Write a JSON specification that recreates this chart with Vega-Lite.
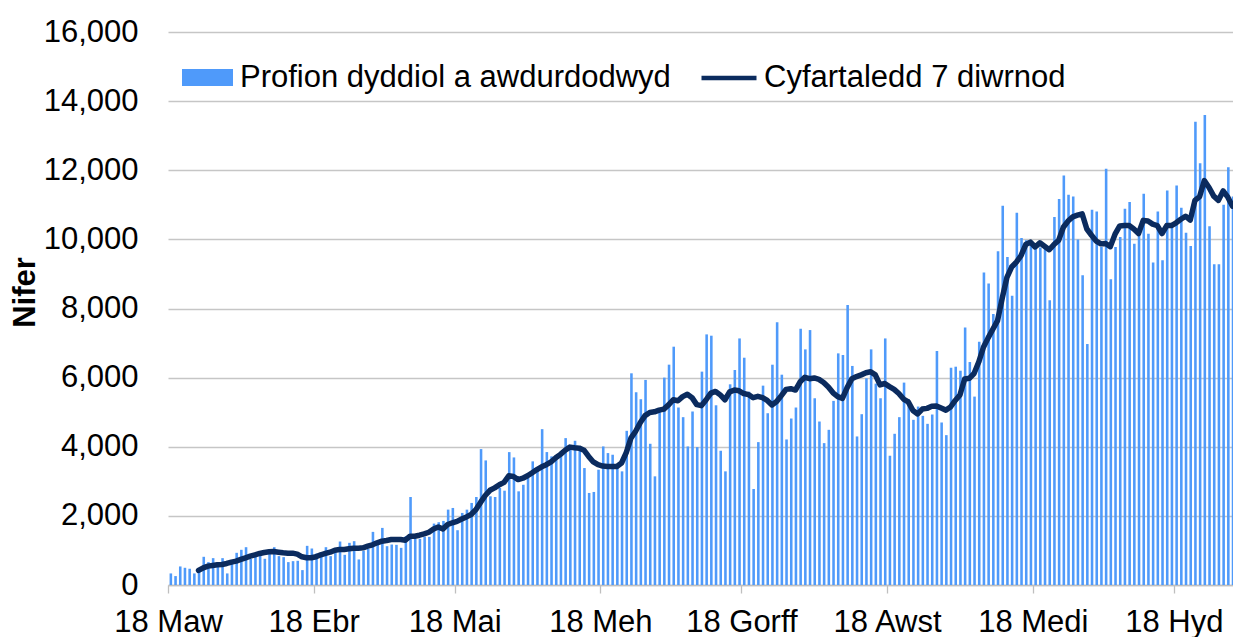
{
"$schema": "https://vega.github.io/schema/vega-lite/v6.json",
"width": 1065,
"height": 553,
"autosize": {"type": "none"},
"padding": {"left": 168, "top": 32, "right": 0, "bottom": 52},
"config": {"font": "Liberation Sans", "view": {"stroke": null}},
"data": {"values": [
{"date":"2020-03-18","tests":335,"avg":null},
{"date":"2020-03-19","tests":258,"avg":null},
{"date":"2020-03-20","tests":537,"avg":null},
{"date":"2020-03-21","tests":498,"avg":null},
{"date":"2020-03-22","tests":470,"avg":null},
{"date":"2020-03-23","tests":335,"avg":null},
{"date":"2020-03-24","tests":450,"avg":421},
{"date":"2020-03-25","tests":816,"avg":498},
{"date":"2020-03-26","tests":662,"avg":546},
{"date":"2020-03-27","tests":777,"avg":566},
{"date":"2020-03-28","tests":662,"avg":585},
{"date":"2020-03-29","tests":777,"avg":595},
{"date":"2020-03-30","tests":335,"avg":623},
{"date":"2020-03-31","tests":662,"avg":662},
{"date":"2020-04-01","tests":931,"avg":690},
{"date":"2020-04-02","tests":1018,"avg":739},
{"date":"2020-04-03","tests":1094,"avg":787},
{"date":"2020-04-04","tests":758,"avg":835},
{"date":"2020-04-05","tests":816,"avg":873},
{"date":"2020-04-06","tests":931,"avg":912},
{"date":"2020-04-07","tests":758,"avg":941},
{"date":"2020-04-08","tests":989,"avg":960},
{"date":"2020-04-09","tests":1094,"avg":970},
{"date":"2020-04-10","tests":835,"avg":950},
{"date":"2020-04-11","tests":806,"avg":931},
{"date":"2020-04-12","tests":662,"avg":922},
{"date":"2020-04-13","tests":690,"avg":922},
{"date":"2020-04-14","tests":700,"avg":893},
{"date":"2020-04-15","tests":431,"avg":816},
{"date":"2020-04-16","tests":1133,"avg":787},
{"date":"2020-04-17","tests":1056,"avg":787},
{"date":"2020-04-18","tests":912,"avg":816},
{"date":"2020-04-19","tests":950,"avg":873},
{"date":"2020-04-20","tests":1094,"avg":912},
{"date":"2020-04-21","tests":835,"avg":950},
{"date":"2020-04-22","tests":989,"avg":1008},
{"date":"2020-04-23","tests":1258,"avg":1027},
{"date":"2020-04-24","tests":873,"avg":1027},
{"date":"2020-04-25","tests":1220,"avg":1046},
{"date":"2020-04-26","tests":1268,"avg":1066},
{"date":"2020-04-27","tests":739,"avg":1066},
{"date":"2020-04-28","tests":989,"avg":1075},
{"date":"2020-04-29","tests":1046,"avg":1123},
{"date":"2020-04-30","tests":1537,"avg":1162},
{"date":"2020-05-01","tests":1268,"avg":1220},
{"date":"2020-05-02","tests":1652,"avg":1268},
{"date":"2020-05-03","tests":1123,"avg":1287},
{"date":"2020-05-04","tests":1171,"avg":1316},
{"date":"2020-05-05","tests":1162,"avg":1316},
{"date":"2020-05-06","tests":1075,"avg":1316},
{"date":"2020-05-07","tests":1412,"avg":1297},
{"date":"2020-05-08","tests":2547,"avg":1412},
{"date":"2020-05-09","tests":1335,"avg":1412},
{"date":"2020-05-10","tests":1335,"avg":1441},
{"date":"2020-05-11","tests":1393,"avg":1479},
{"date":"2020-05-12","tests":1393,"avg":1527},
{"date":"2020-05-13","tests":1777,"avg":1620},
{"date":"2020-05-14","tests":1816,"avg":1680},
{"date":"2020-05-15","tests":1854,"avg":1620},
{"date":"2020-05-16","tests":2181,"avg":1750},
{"date":"2020-05-17","tests":2229,"avg":1800},
{"date":"2020-05-18","tests":1585,"avg":1840},
{"date":"2020-05-19","tests":2085,"avg":1910},
{"date":"2020-05-20","tests":2180,"avg":1970},
{"date":"2020-05-21","tests":2374,"avg":2040},
{"date":"2020-05-22","tests":2547,"avg":2180},
{"date":"2020-05-23","tests":3932,"avg":2390},
{"date":"2020-05-24","tests":3605,"avg":2590},
{"date":"2020-05-25","tests":2566,"avg":2740},
{"date":"2020-05-26","tests":2547,"avg":2810},
{"date":"2020-05-27","tests":2806,"avg":2900},
{"date":"2020-05-28","tests":2729,"avg":2970},
{"date":"2020-05-29","tests":3845,"avg":3160},
{"date":"2020-05-30","tests":3691,"avg":3140},
{"date":"2020-05-31","tests":2710,"avg":3050},
{"date":"2020-06-01","tests":2900,"avg":3090},
{"date":"2020-06-02","tests":3096,"avg":3160},
{"date":"2020-06-03","tests":3577,"avg":3250},
{"date":"2020-06-04","tests":3336,"avg":3340},
{"date":"2020-06-05","tests":4509,"avg":3420},
{"date":"2020-06-06","tests":3846,"avg":3480},
{"date":"2020-06-07","tests":3721,"avg":3560},
{"date":"2020-06-08","tests":3692,"avg":3680},
{"date":"2020-06-09","tests":3817,"avg":3780},
{"date":"2020-06-10","tests":4250,"avg":3900},
{"date":"2020-06-11","tests":4057,"avg":3990},
{"date":"2020-06-12","tests":4173,"avg":3970},
{"date":"2020-06-13","tests":3932,"avg":3960},
{"date":"2020-06-14","tests":3384,"avg":3900},
{"date":"2020-06-15","tests":2663,"avg":3720},
{"date":"2020-06-16","tests":2692,"avg":3560},
{"date":"2020-06-17","tests":3336,"avg":3480},
{"date":"2020-06-18","tests":4009,"avg":3440},
{"date":"2020-06-19","tests":3817,"avg":3430},
{"date":"2020-06-20","tests":3769,"avg":3430},
{"date":"2020-06-21","tests":3432,"avg":3430},
{"date":"2020-06-22","tests":3288,"avg":3530},
{"date":"2020-06-23","tests":4461,"avg":3830},
{"date":"2020-06-24","tests":6125,"avg":4250},
{"date":"2020-06-25","tests":5577,"avg":4450},
{"date":"2020-06-26","tests":5375,"avg":4700},
{"date":"2020-06-27","tests":5933,"avg":4900},
{"date":"2020-06-28","tests":4086,"avg":4990},
{"date":"2020-06-29","tests":3144,"avg":5010},
{"date":"2020-06-30","tests":5067,"avg":5060},
{"date":"2020-07-01","tests":6000,"avg":5090},
{"date":"2020-07-02","tests":6375,"avg":5210},
{"date":"2020-07-03","tests":6895,"avg":5360},
{"date":"2020-07-04","tests":5135,"avg":5330},
{"date":"2020-07-05","tests":4856,"avg":5450},
{"date":"2020-07-06","tests":4009,"avg":5520},
{"date":"2020-07-07","tests":5020,"avg":5420},
{"date":"2020-07-08","tests":3990,"avg":5220},
{"date":"2020-07-09","tests":6173,"avg":5190},
{"date":"2020-07-10","tests":7251,"avg":5360},
{"date":"2020-07-11","tests":7213,"avg":5550},
{"date":"2020-07-12","tests":5200,"avg":5600},
{"date":"2020-07-13","tests":3884,"avg":5500},
{"date":"2020-07-14","tests":3288,"avg":5360},
{"date":"2020-07-15","tests":5806,"avg":5590},
{"date":"2020-07-16","tests":6220,"avg":5640},
{"date":"2020-07-17","tests":7134,"avg":5620},
{"date":"2020-07-18","tests":6576,"avg":5540},
{"date":"2020-07-19","tests":5595,"avg":5510},
{"date":"2020-07-20","tests":2778,"avg":5420},
{"date":"2020-07-21","tests":4134,"avg":5460},
{"date":"2020-07-22","tests":5768,"avg":5420},
{"date":"2020-07-23","tests":4970,"avg":5340},
{"date":"2020-07-24","tests":6374,"avg":5210},
{"date":"2020-07-25","tests":7605,"avg":5310},
{"date":"2020-07-26","tests":6085,"avg":5480},
{"date":"2020-07-27","tests":4211,"avg":5660},
{"date":"2020-07-28","tests":4817,"avg":5680},
{"date":"2020-07-29","tests":5135,"avg":5640},
{"date":"2020-07-30","tests":7415,"avg":5880},
{"date":"2020-07-31","tests":6817,"avg":6010},
{"date":"2020-08-01","tests":7376,"avg":5970},
{"date":"2020-08-02","tests":5403,"avg":5990},
{"date":"2020-08-03","tests":4730,"avg":5950},
{"date":"2020-08-04","tests":4105,"avg":5860},
{"date":"2020-08-05","tests":4490,"avg":5730},
{"date":"2020-08-06","tests":5327,"avg":5560},
{"date":"2020-08-07","tests":6702,"avg":5450},
{"date":"2020-08-08","tests":6654,"avg":5400},
{"date":"2020-08-09","tests":8098,"avg":5710},
{"date":"2020-08-10","tests":6338,"avg":5970},
{"date":"2020-08-11","tests":4298,"avg":6030},
{"date":"2020-08-12","tests":4942,"avg":6080},
{"date":"2020-08-13","tests":5981,"avg":6140},
{"date":"2020-08-14","tests":6817,"avg":6170},
{"date":"2020-08-15","tests":5826,"avg":6080},
{"date":"2020-08-16","tests":5403,"avg":5790},
{"date":"2020-08-17","tests":7134,"avg":5830},
{"date":"2020-08-18","tests":3740,"avg":5740},
{"date":"2020-08-19","tests":4375,"avg":5660},
{"date":"2020-08-20","tests":4856,"avg":5540},
{"date":"2020-08-21","tests":5856,"avg":5380},
{"date":"2020-08-22","tests":5375,"avg":5300},
{"date":"2020-08-23","tests":4779,"avg":5050},
{"date":"2020-08-24","tests":5163,"avg":4950},
{"date":"2020-08-25","tests":4894,"avg":5090},
{"date":"2020-08-26","tests":4663,"avg":5110},
{"date":"2020-08-27","tests":4933,"avg":5170},
{"date":"2020-08-28","tests":6770,"avg":5180},
{"date":"2020-08-29","tests":4702,"avg":5120},
{"date":"2020-08-30","tests":4336,"avg":5060},
{"date":"2020-08-31","tests":6286,"avg":5150},
{"date":"2020-09-01","tests":6316,"avg":5340},
{"date":"2020-09-02","tests":6200,"avg":5500},
{"date":"2020-09-03","tests":7451,"avg":5960},
{"date":"2020-09-04","tests":6451,"avg":5980},
{"date":"2020-09-05","tests":5451,"avg":6120},
{"date":"2020-09-06","tests":7038,"avg":6450},
{"date":"2020-09-07","tests":9040,"avg":6880},
{"date":"2020-09-08","tests":8723,"avg":7150},
{"date":"2020-09-09","tests":7838,"avg":7400},
{"date":"2020-09-10","tests":9656,"avg":7650},
{"date":"2020-09-11","tests":10973,"avg":8300},
{"date":"2020-09-12","tests":9492,"avg":8900},
{"date":"2020-09-13","tests":8367,"avg":9200},
{"date":"2020-09-14","tests":10771,"avg":9340},
{"date":"2020-09-15","tests":10040,"avg":9530},
{"date":"2020-09-16","tests":9973,"avg":9850},
{"date":"2020-09-17","tests":9829,"avg":9920},
{"date":"2020-09-18","tests":9810,"avg":9780},
{"date":"2020-09-19","tests":9762,"avg":9900},
{"date":"2020-09-20","tests":9829,"avg":9800},
{"date":"2020-09-21","tests":8242,"avg":9700},
{"date":"2020-09-22","tests":10646,"avg":9850},
{"date":"2020-09-23","tests":11166,"avg":9970},
{"date":"2020-09-24","tests":11849,"avg":10350},
{"date":"2020-09-25","tests":11292,"avg":10530},
{"date":"2020-09-26","tests":11244,"avg":10650},
{"date":"2020-09-27","tests":9993,"avg":10700},
{"date":"2020-09-28","tests":8963,"avg":10740},
{"date":"2020-09-29","tests":6972,"avg":10300},
{"date":"2020-09-30","tests":10858,"avg":10120},
{"date":"2020-10-01","tests":10810,"avg":9950},
{"date":"2020-10-02","tests":9781,"avg":9870},
{"date":"2020-10-03","tests":12041,"avg":9880},
{"date":"2020-10-04","tests":8848,"avg":9790},
{"date":"2020-10-05","tests":9781,"avg":10150},
{"date":"2020-10-06","tests":10070,"avg":10390},
{"date":"2020-10-07","tests":10887,"avg":10400},
{"date":"2020-10-08","tests":11080,"avg":10400},
{"date":"2020-10-09","tests":9877,"avg":10300},
{"date":"2020-10-10","tests":10214,"avg":10170},
{"date":"2020-10-11","tests":11320,"avg":10550},
{"date":"2020-10-12","tests":10166,"avg":10530},
{"date":"2020-10-13","tests":9329,"avg":10440},
{"date":"2020-10-14","tests":10810,"avg":10400},
{"date":"2020-10-15","tests":9397,"avg":10170},
{"date":"2020-10-16","tests":11416,"avg":10400},
{"date":"2020-10-17","tests":10358,"avg":10400},
{"date":"2020-10-18","tests":11560,"avg":10480},
{"date":"2020-10-19","tests":10916,"avg":10580},
{"date":"2020-10-20","tests":10195,"avg":10670},
{"date":"2020-10-21","tests":9810,"avg":10560},
{"date":"2020-10-22","tests":13406,"avg":11130},
{"date":"2020-10-23","tests":12204,"avg":11240},
{"date":"2020-10-24","tests":13599,"avg":11700},
{"date":"2020-10-25","tests":10377,"avg":11500},
{"date":"2020-10-26","tests":9281,"avg":11250},
{"date":"2020-10-27","tests":9281,"avg":11130},
{"date":"2020-10-28","tests":11000,"avg":11400},
{"date":"2020-10-29","tests":12089,"avg":11220},
{"date":"2020-10-30","tests":11244,"avg":10960}
]},
"layer": [
{
"mark": {"type": "bar", "width": {"band": 0.76}, "clip": true},
"encoding": {
"x": {"field": "date", "type": "temporal", "timeUnit": "utcyearmonthdate",
"scale": {"type": "utc", "domain": [{"year": 2020, "month": 3, "date": 18, "utc": true}, {"year": 2020, "month": 10, "date": 30, "hours": 14, "minutes": 24, "utc": true}]},
"axis": {"title": null, "grid": false,
"values": [{"year": 2020, "month": 3, "date": 18, "utc": true}, {"year": 2020, "month": 4, "date": 18, "utc": true}, {"year": 2020, "month": 5, "date": 18, "utc": true}, {"year": 2020, "month": 6, "date": 18, "utc": true}, {"year": 2020, "month": 7, "date": 18, "utc": true}, {"year": 2020, "month": 8, "date": 18, "utc": true}, {"year": 2020, "month": 9, "date": 18, "utc": true}, {"year": 2020, "month": 10, "date": 18, "utc": true}],
"labelExpr": "'18 ' + ['Ion','Chwef','Maw','Ebr','Mai','Meh','Gorff','Awst','Medi','Hyd','Tach','Rhag'][utcmonth(datum.value)]",
"domainColor": "#BFBFBF", "domainWidth": 1.3, "tickColor": "#BFBFBF", "tickWidth": 1.3, "tickSize": 8,
"labelFontSize": 31, "labelColor": "#000000", "labelFlush": false, "labelOverlap": false, "labelBound": false, "labelPadding": 14}},
"y": {"field": "tests", "type": "quantitative",
"scale": {"domain": [0, 16000]},
"axis": {"title": "Nifer", "values": [0, 2000, 4000, 6000, 8000, 10000, 12000, 14000, 16000], "format": ",.0f",
"grid": true, "gridColor": "#C6C6C6", "gridWidth": 1.3, "domain": false, "ticks": false,
"labelPadding": 30, "labelFontSize": 31, "labelColor": "#000000",
"titleFontSize": 31, "titleFontWeight": "bold", "titleColor": "#000000", "titleAngle": -90,
"titleX": -134, "titleY": 260, "titleAlign": "center", "titleBaseline": "alphabetic"}},
"fill": {"datum": "Profion dyddiol a awdurdodwyd", "type": "nominal",
"scale": {"range": ["#4F9AFA"]},
"legend": {"title": null, "orient": "none", "legendX": 14, "legendY": 20, "padding": 0,
"symbolType": "M-1,-0.33H1V0.33H-1Z", "symbolSize": 2601, "symbolStrokeWidth": 0,
"labelFontSize": 31, "labelColor": "#000000", "labelOffset": 7, "labelLimit": 1000}}
}
},
{
"mark": {"type": "line", "strokeWidth": 5.5, "strokeJoin": "round", "strokeCap": "round", "clip": true},
"encoding": {
"x": {"field": "date", "type": "temporal", "timeUnit": "utcyearmonthdate", "bandPosition": 0.5},
"y": {"field": "avg", "type": "quantitative"},
"stroke": {"datum": "Cyfartaledd 7 diwrnod", "type": "nominal",
"scale": {"range": ["#0B2B5E"]},
"legend": {"title": null, "orient": "none", "legendX": 531, "legendY": 16, "padding": 0,
"symbolType": "stroke", "symbolSize": 3025, "symbolStrokeWidth": 4.5,
"labelFontSize": 31, "labelColor": "#000000", "labelOffset": 5, "labelLimit": 1000}}
}
}
]
}
